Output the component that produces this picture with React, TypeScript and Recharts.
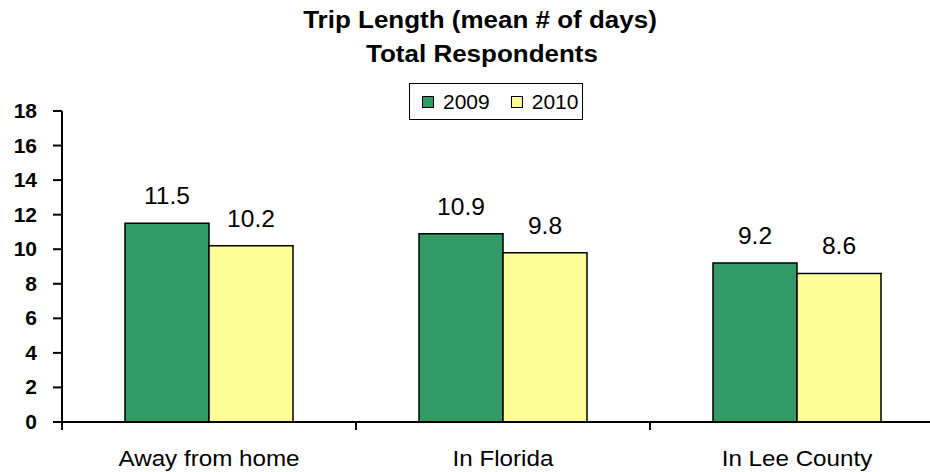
import React from 'react';
import { BarChart, Bar, XAxis, YAxis, LabelList } from 'recharts';

const categories = ['Away from home', 'In Florida', 'In Lee County'];
const values2009 = [11.5, 10.9, 9.2];
const values2010 = [10.2, 9.8, 8.6];
const yTicks = [0, 2, 4, 6, 8, 10, 12, 14, 16, 18];
const seriesNames = ['2009', '2010'];
const titleLines = ['Trip Length (mean # of days)', 'Total Respondents'];

const data = categories.map((name, i) => ({
    name,
    y2009: values2009[i],
    y2010: values2010[i],
}));

const FONT = '"Liberation Sans", Arial, sans-serif';
const GREEN = '#339966';
const YELLOW = '#FFFF99';

const CHART_W = 960;
const CHART_H = 472;
const Y_AXIS_W = 62;
const MARGIN_RIGHT = 16;
const BAND = (CHART_W - Y_AXIS_W - MARGIN_RIGHT) / categories.length;

// the original picture is a bit stretched sideways, so text is widened too
function WideText({ x, y, sx = 1.1, anchor = 'middle', size, bold = false, children }: any) {
    return (
        <text
            transform={`translate(${x} ${y}) scale(${sx} 1)`}
            textAnchor={anchor}
            fill="#000"
            fontSize={size}
            fontWeight={bold ? 'bold' : 'normal'}
            fontFamily={FONT}
        >
            {children}
        </text>
    );
}

function CategoryTick(props: any) {
    const { x, y, payload, index } = props;
    const left = x - BAND / 2;
    return (
        <g>
            <line x1={left} x2={left} y1={y - 8} y2={y} stroke="#000" strokeWidth={2} />
            {index === categories.length - 1 && (
                <line x1={x + BAND / 2} x2={x + BAND / 2} y1={y - 8} y2={y} stroke="#000" strokeWidth={2} />
            )}
            <WideText x={x} y={y + 36} size={22} sx={1.1}>
                {payload.value}
            </WideText>
        </g>
    );
}

function ValueTick(props: any) {
    const { x, y, payload } = props;
    return (
        <WideText x={x} y={y + 7} size={20} bold anchor="end" sx={1.05}>
            {payload.value}
        </WideText>
    );
}

function ValueLabel(props: any) {
    const { x, y, width, value } = props;
    return (
        <WideText x={x + width / 2} y={y - 19} size={23} sx={1.07}>
            {value}
        </WideText>
    );
}

function LegendBox() {
    const colors = [GREEN, YELLOW];
    return (
        <div
            style={{
                position: 'absolute',
                left: 409,
                top: 83,
                width: 172,
                height: 35,
                border: '1px solid #000',
                background: '#fff',
                display: 'flex',
                alignItems: 'center',
                fontFamily: FONT,
                fontSize: 21,
                color: '#000',
                boxSizing: 'content-box',
            }}
        >
            {seriesNames.map((s, i) => (
                <div key={s} style={{ display: 'flex', alignItems: 'center', marginLeft: i === 0 ? 12 : 21 }}>
                    <span
                        style={{
                            display: 'inline-block',
                            width: 10,
                            height: 10,
                            background: colors[i],
                            border: '1px solid #000',
                            marginRight: 9,
                        }}
                    />
                    <span>{s}</span>
                </div>
            ))}
        </div>
    );
}

export default function App() {
    return (
        <div
            style={{
                position: 'absolute',
                left: 0,
                top: 0,
                width: 930,
                height: 472,
                overflow: 'hidden',
                background: '#fff',
            }}
        >
            <BarChart
                width={CHART_W}
                height={CHART_H}
                data={data}
                margin={{ top: 111, right: MARGIN_RIGHT, left: 0, bottom: 0 }}
                barGap={0}
            >
                <XAxis
                    dataKey="name"
                    height={50}
                    axisLine={{ stroke: '#000', strokeWidth: 2 }}
                    tickLine={false}
                    tickSize={8}
                    tickMargin={0}
                    interval={0}
                    tick={<CategoryTick />}
                />
                <YAxis
                    width={Y_AXIS_W}
                    domain={[0, 18]}
                    ticks={yTicks}
                    interval={0}
                    axisLine={{ stroke: '#000', strokeWidth: 2 }}
                    tickLine={{ stroke: '#000', strokeWidth: 2 }}
                    tickSize={9}
                    tickMargin={16}
                    tick={<ValueTick />}
                />
                <Bar
                    dataKey="y2009"
                    name="2009"
                    fill={GREEN}
                    stroke="#000"
                    strokeWidth={1.5}
                    barSize={84}
                    isAnimationActive={false}
                >
                    <LabelList dataKey="y2009" content={<ValueLabel />} />
                </Bar>
                <Bar
                    dataKey="y2010"
                    name="2010"
                    fill={YELLOW}
                    stroke="#000"
                    strokeWidth={1.5}
                    barSize={84}
                    isAnimationActive={false}
                >
                    <LabelList dataKey="y2010" content={<ValueLabel />} />
                </Bar>
            </BarChart>
            <svg
                width={930}
                height={80}
                style={{ position: 'absolute', left: 0, top: 0, pointerEvents: 'none' }}
            >
                <WideText x={480} y={28} size={23} bold sx={1.13}>
                    {titleLines[0]}
                </WideText>
                <WideText x={482} y={62} size={23} bold sx={1.13}>
                    {titleLines[1]}
                </WideText>
            </svg>
            <LegendBox />
        </div>
    );
}
